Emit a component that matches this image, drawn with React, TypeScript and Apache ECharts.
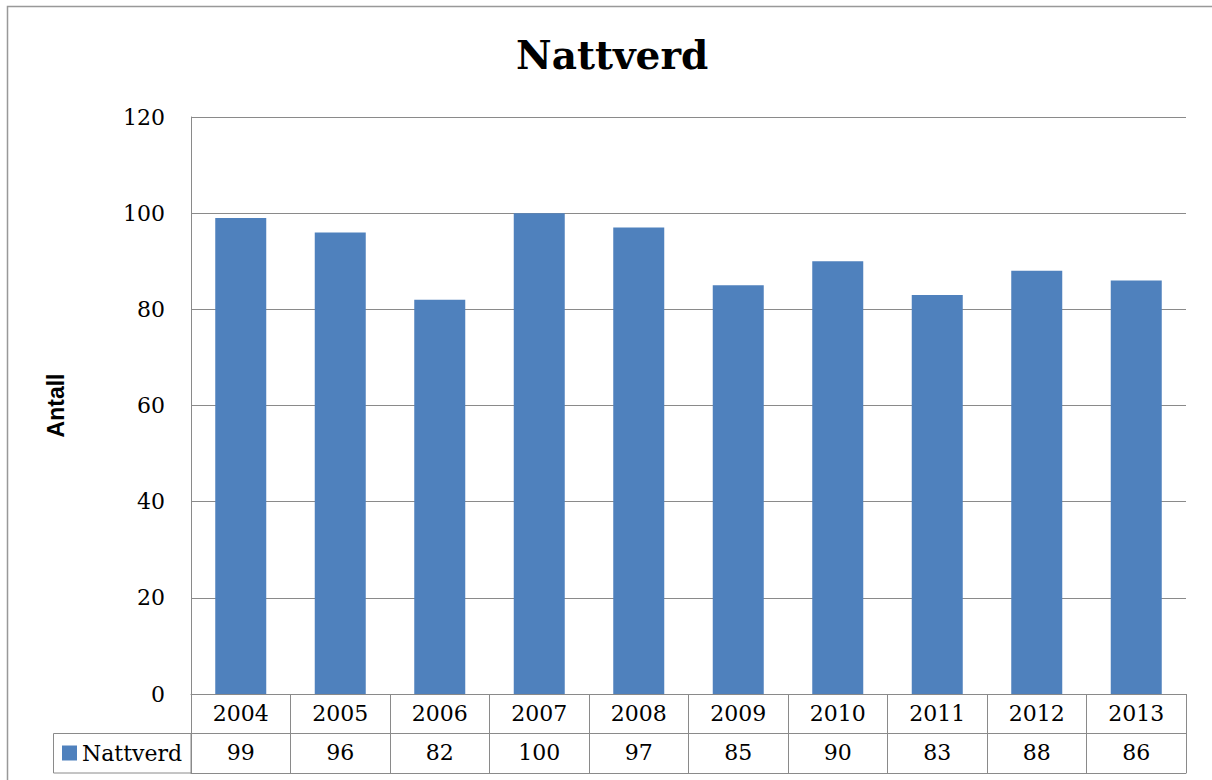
import React, { useEffect, useRef } from "react";
import * as echarts from "echarts";

const years = ["2004", "2005", "2006", "2007", "2008", "2009", "2010", "2011", "2012", "2013"];
const nattverd = [99, 96, 82, 100, 97, 85, 90, 83, 88, 86];
const seriesName = "Nattverd";
const titleText = "Nattverd";
const yAxisName = "Antall";

const GRAY = "#8a8a8a";
const SERIF = "'DejaVu Serif', 'Liberation Serif', serif";

export default function App() {
  const ref = useRef<HTMLDivElement>(null);
  useEffect(() => {
    document.body.style.margin = "0";
    const chart = echarts.init(ref.current!, null, { renderer: "svg" });
    chart.setOption({
      animation: false,
      backgroundColor: "#ffffff",
      title: {
        text: titleText,
        left: 511,
        top: 30,
        textStyle: { fontFamily: SERIF, fontWeight: "bold", fontSize: 39, color: "#000" },
      },
      legend: {
        left: 62,
        top: 742,
        icon: "rect",
        itemWidth: 15,
        itemHeight: 15,
        padding: 0,
        textStyle: { fontFamily: SERIF, fontSize: 22, color: "#000" },
        data: [seriesName],
      },
      grid: { left: 191, right: 26, top: 117, bottom: 86, containLabel: false },
      yAxis: {
        type: "value",
        min: 0,
        max: 120,
        interval: 20,
        name: yAxisName,
        nameLocation: "middle",
        nameRotate: 90,
        nameGap: 124,
        nameTextStyle: { fontFamily: "'Liberation Sans', Arial, sans-serif", fontWeight: "bold", fontSize: 23, color: "#000" },
        axisLine: { show: true, lineStyle: { color: GRAY, width: 1 } },
        axisTick: { show: false },
        splitLine: { show: true, lineStyle: { color: GRAY, width: 1 } },
        axisLabel: { margin: 26, fontFamily: SERIF, fontSize: 22, color: "#000" },
      },
      xAxis: [
        {
          type: "category",
          data: years,
          position: "bottom",
          boundaryGap: true,
          axisLine: { show: true, lineStyle: { color: GRAY, width: 1 } },
          axisTick: { show: true, length: 79, interval: 0, lineStyle: { color: GRAY, width: 1 } },
          axisLabel: { margin: 8, interval: 0, fontFamily: SERIF, fontSize: 22, color: "#000" },
          splitLine: { show: false },
        },
        {
          type: "category",
          data: nattverd.map(String),
          position: "bottom",
          offset: 39,
          boundaryGap: true,
          axisLine: { show: true, lineStyle: { color: GRAY, width: 1 } },
          axisTick: { show: false },
          axisLabel: { margin: 8, interval: 0, fontFamily: SERIF, fontSize: 22, color: "#000" },
          splitLine: { show: false },
        },
        {
          type: "category",
          data: years,
          position: "bottom",
          offset: 79,
          axisLine: { show: true, lineStyle: { color: GRAY, width: 1 } },
          axisTick: { show: false },
          axisLabel: { show: false },
          splitLine: { show: false },
        },
      ],
      series: [
        {
          name: seriesName,
          type: "bar",
          xAxisIndex: 0,
          data: nattverd,
          barWidth: 51,
          itemStyle: { color: "#4F81BD" },
        },
      ],
      graphic: [
        {
          type: "rect",
          shape: { x: 53.5, y: 733.5, width: 137.5, height: 39.5 },
          style: { fill: "none", stroke: GRAY, lineWidth: 1 },
          silent: true,
        },
        {
          type: "polyline",
          shape: { points: [[7.5, 800], [7.5, 6.5], [1230, 6.5]] },
          style: { fill: "none", stroke: "#999999", lineWidth: 1.5 },
          silent: true,
        },
      ],
    });
    return () => chart.dispose();
  }, []);
  return <div ref={ref} style={{ position: "fixed", left: 0, top: 0, width: 1212, height: 780 }} />;
}
